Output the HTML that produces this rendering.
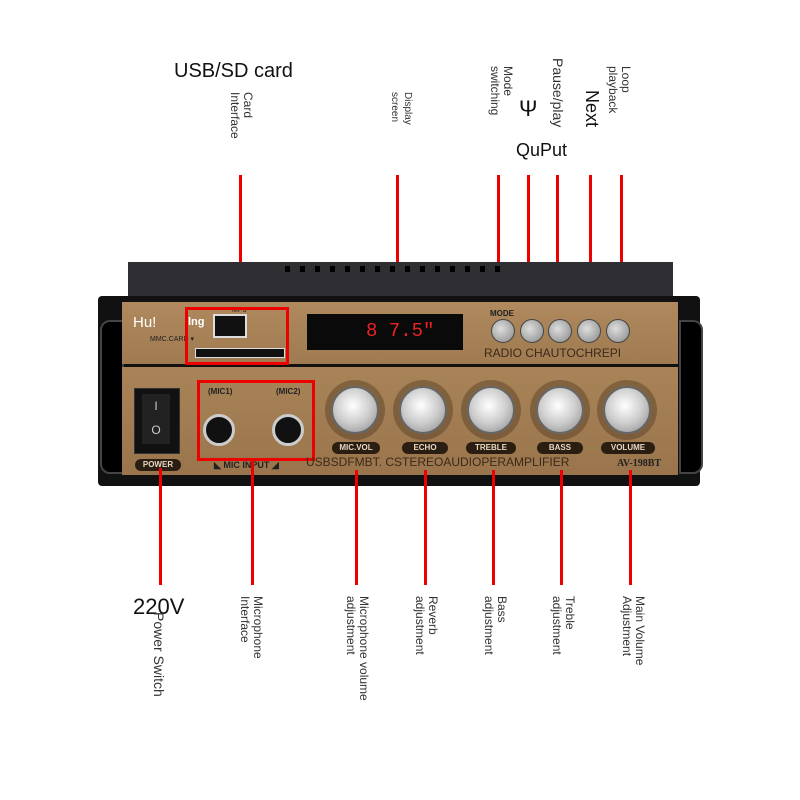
<!DOCTYPE html>
<html><head><style>
body{margin:0;width:800px;height:800px;background:#fff;position:relative;overflow:hidden;font-family:"Liberation Sans",sans-serif}
.a{position:absolute}
.v{position:absolute;writing-mode:vertical-rl;font-size:12px;color:#333;line-height:13px}
.r{position:absolute;background:#e00;width:3px}
.btn{position:absolute;width:22px;height:22px;border-radius:50%;background:radial-gradient(circle at 40% 40%,#ddd,#888);border:1px solid #444}
.knob{position:absolute;width:44px;height:44px;border-radius:50%;background:radial-gradient(circle at 45% 40%,#fff,#ccc 50%,#888);border:2px solid #666;box-shadow:0 0 0 6px rgba(60,40,20,.35)}
.lab{position:absolute;background:#2a1d12;color:#e8d7c0;font-size:8px;font-weight:bold;border-radius:7px;text-align:center;height:12px;line-height:12px}
.vent{position:absolute;top:266px;width:5px;height:6px;background:#000}
</style></head><body>
<div class="a" style="left:174px;top:60px;font-size:20px;color:#111">USB/SD card</div>
<div class="v" style="left:228px;top:92px">Card<br>Interface</div>
<div class="v" style="left:388px;top:92px;font-size:10px">Display<br>screen</div>
<div class="v" style="left:488px;top:66px">Mode<br>switching</div>
<div class="v" style="left:551px;top:58px;font-size:14px">Pause/play</div>
<div class="v" style="left:585px;top:90px;font-size:18px;color:#111">Next</div>
<div class="v" style="left:606px;top:66px">Loop<br>playback</div>
<div class="a" style="left:516px;top:140px;font-size:18px;color:#111">QuPut</div>
<div class="a" style="left:519px;top:96px;font-size:22px;color:#111">Ψ</div>

<div class="r" style="left:239px;top:175px;height:132px"></div>
<div class="r" style="left:396px;top:175px;height:133px"></div>
<div class="r" style="left:497px;top:175px;height:137px"></div>
<div class="r" style="left:527px;top:175px;height:137px"></div>
<div class="r" style="left:556px;top:175px;height:137px"></div>
<div class="r" style="left:589px;top:175px;height:137px"></div>
<div class="r" style="left:620px;top:175px;height:137px"></div>

<div class="a" style="left:128px;top:262px;width:545px;height:45px;background:#2e2e33"></div>
<div class="vent" style="left:285px"></div><div class="vent" style="left:300px"></div><div class="vent" style="left:315px"></div><div class="vent" style="left:330px"></div><div class="vent" style="left:345px"></div><div class="vent" style="left:360px"></div><div class="vent" style="left:375px"></div><div class="vent" style="left:390px"></div><div class="vent" style="left:405px"></div><div class="vent" style="left:420px"></div><div class="vent" style="left:435px"></div><div class="vent" style="left:450px"></div><div class="vent" style="left:465px"></div><div class="vent" style="left:480px"></div><div class="vent" style="left:495px"></div>
<div class="a" style="left:98px;top:296px;width:602px;height:190px;background:#111;border-radius:4px"></div>
<div class="a" style="left:100px;top:320px;width:20px;height:150px;background:#000;border-radius:10px 0 0 10px;border:2px solid #444"></div>
<div class="a" style="left:679px;top:320px;width:20px;height:150px;background:#000;border-radius:0 10px 10px 0;border:2px solid #444"></div>
<div class="a" style="left:122px;top:302px;width:556px;height:62px;background:linear-gradient(#b08a5e,#a07a50)"></div>
<div class="a" style="left:122px;top:367px;width:556px;height:108px;background:linear-gradient(#a98458,#9a744c)"></div>
<div class="a" style="left:133px;top:314px;color:#fff;font-size:15px">Hu!</div>
<div class="a" style="left:188px;top:316px;color:#fff;font-size:11px;font-weight:bold">lng</div>
<div class="a" style="left:213px;top:314px;width:30px;height:20px;background:#111;border:2px solid #ddd"></div>
<div class="a" style="left:232px;top:307px;font-size:7px;color:#222">MP3</div>
<div class="a" style="left:150px;top:335px;font-size:7px;color:#222">MMC.CARD ▾</div>
<div class="a" style="left:195px;top:348px;width:88px;height:8px;background:#111;border:1px solid #ddd"></div>
<div class="a" style="left:185px;top:307px;width:98px;height:52px;border:3px solid #e00"></div>
<div class="a" style="left:307px;top:314px;width:156px;height:36px;background:#0a0a0a"></div>
<div class="a" style="left:366px;top:320px;color:#e22;font-size:19px;font-family:'Liberation Mono',monospace">8 7.5"</div>
<div class="a" style="left:490px;top:309px;font-size:8px;font-weight:bold;color:#222">MODE</div>
<div class="btn" style="left:491px;top:319px"></div>
<div class="btn" style="left:520px;top:319px"></div>
<div class="btn" style="left:548px;top:319px"></div>
<div class="btn" style="left:577px;top:319px"></div>
<div class="btn" style="left:606px;top:319px"></div>
<div class="a" style="left:484px;top:346px;font-size:12px;color:#3a2a1a">RADIO CHAUTOCHREPI</div>

<div class="a" style="left:134px;top:388px;width:44px;height:64px;background:#111;border:1px solid #333"></div>
<div class="a" style="left:142px;top:394px;width:28px;height:50px;background:#222;color:#ccc;font-size:12px;text-align:center;line-height:24px">I<br>O</div>
<div class="lab" style="left:135px;top:459px;width:46px">POWER</div>
<div class="a" style="left:197px;top:380px;width:112px;height:75px;border:3px solid #e00"></div>
<div class="a" style="left:208px;top:387px;font-size:8px;font-weight:bold;color:#222">(MIC1)</div>
<div class="a" style="left:276px;top:387px;font-size:8px;font-weight:bold;color:#222">(MIC2)</div>
<div class="a" style="left:203px;top:414px;width:26px;height:26px;border-radius:50%;background:#111;border:3px solid #ccc"></div>
<div class="a" style="left:272px;top:414px;width:26px;height:26px;border-radius:50%;background:#111;border:3px solid #ccc"></div>
<div class="a" style="left:214px;top:460px;font-size:9px;font-weight:bold;color:#222">◣ MIC INPUT ◢</div>

<div class="knob" style="left:331px;top:386px"></div>
<div class="knob" style="left:399px;top:386px"></div>
<div class="knob" style="left:467px;top:386px"></div>
<div class="knob" style="left:536px;top:386px"></div>
<div class="knob" style="left:603px;top:386px"></div>
<div class="lab" style="left:332px;top:442px;width:48px">MIC.VOL</div>
<div class="lab" style="left:402px;top:442px;width:46px">ECHO</div>
<div class="lab" style="left:466px;top:442px;width:50px">TREBLE</div>
<div class="lab" style="left:537px;top:442px;width:46px">BASS</div>
<div class="lab" style="left:601px;top:442px;width:54px">VOLUME</div>
<div class="a" style="left:306px;top:455px;font-size:12px;color:#3a2a1a">USBSDFMBT. CSTEREOAUDIOPERAMPLIFIER</div>
<div class="a" style="left:617px;top:458px;font-size:10px;font-weight:bold;font-family:'Liberation Serif',serif;color:#222">AV-198BT</div>

<div class="r" style="left:159px;top:468px;height:117px"></div>
<div class="r" style="left:251px;top:458px;height:127px"></div>
<div class="r" style="left:355px;top:470px;height:115px"></div>
<div class="r" style="left:424px;top:470px;height:115px"></div>
<div class="r" style="left:492px;top:470px;height:115px"></div>
<div class="r" style="left:560px;top:470px;height:115px"></div>
<div class="r" style="left:629px;top:470px;height:115px"></div>

<div class="a" style="left:133px;top:594px;font-size:22px;color:#111">220V</div>
<div class="v" style="left:152px;top:612px;font-size:14px">Power Switch</div>
<div class="v" style="left:238px;top:596px">Microphone<br>Interface</div>
<div class="v" style="left:344px;top:596px">Microphone volume<br>adjustment</div>
<div class="v" style="left:413px;top:596px">Reverb<br>adjustment</div>
<div class="v" style="left:482px;top:596px">Bass<br>adjustment</div>
<div class="v" style="left:550px;top:596px">Treble<br>adjustment</div>
<div class="v" style="left:620px;top:596px">Main Volume<br>Adjustment</div>
</body></html>
